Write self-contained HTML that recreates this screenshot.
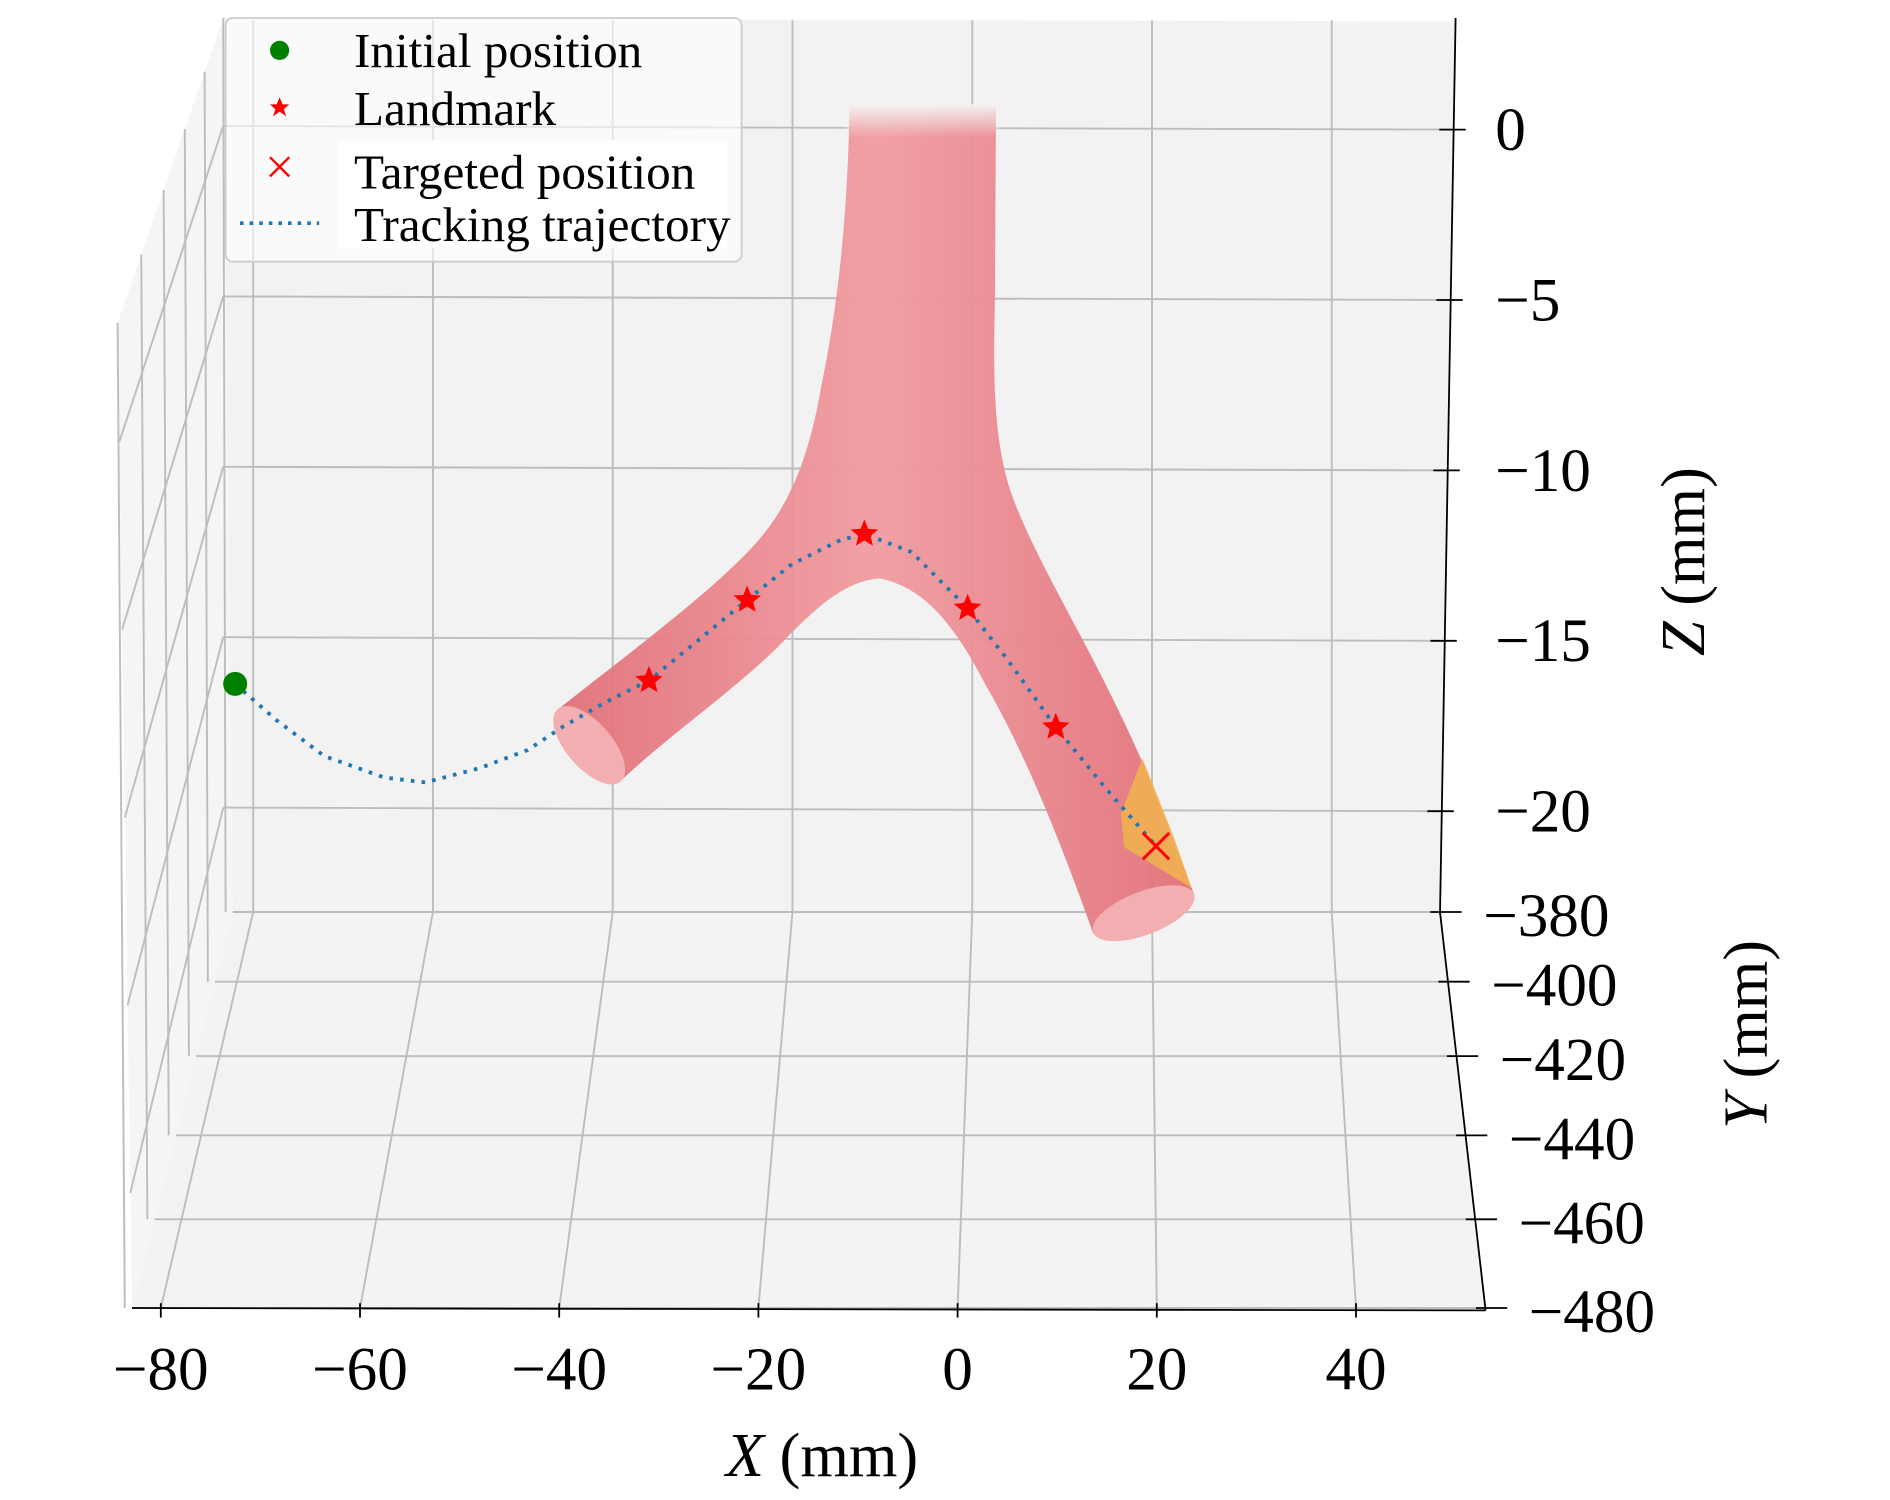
<!DOCTYPE html>
<html><head><meta charset="utf-8"><style>
html,body{margin:0;padding:0;background:#fff;}
svg{display:block;}
text{font-family:"Liberation Serif",serif;fill:#000;}
</style></head><body>
<svg id="chart" width="1890" height="1500" viewBox="0 0 1575 1250" preserveAspectRatio="none" xmlns="http://www.w3.org/2000/svg">
<defs>
<linearGradient id="trunkGrad" x1="0" y1="0" x2="1" y2="0">
<stop offset="0" stop-color="#e27078"/><stop offset="0.5" stop-color="#f09ca1"/><stop offset="1" stop-color="#e27078"/>
</linearGradient>
<linearGradient id="topFade" x1="0" y1="0" x2="0" y2="1">
<stop offset="0" stop-color="#f2f2f2" stop-opacity="1"/><stop offset="1" stop-color="#f2f2f2" stop-opacity="0"/>
</linearGradient>
</defs>
<g id="panes">
<polygon points="186,15 1213,18 1200,760 194,760" fill="#f2f2f2"/>
<polygon points="186,15 98,269 110,1090 194,760" fill="#f5f5f5"/>
<polygon points="194,760 1200,760 1238,1090 110,1090" fill="#f3f3f3"/>
</g>
<g id="grid" stroke="#bdbdbd" stroke-width="1.6" fill="none"></g>
<g id="vessel">
<path d="M708,88 L830,88 L829,257 C827,330 830,380 846,420 C870,480 910,540 952,635 L995,745 L911,778 C880,690 850,620 822,572 C800,530 775,490 733,482 C705,484 682,505 658,529 C620,570 560,610 517,651 L465,591 C530,540 590,495 625,458 C650,432 672,395 684,324 C695,270 706,200 708,88 Z" fill="url(#trunkGrad)" opacity="0.95"/>
<ellipse cx="491" cy="621" rx="40" ry="19" transform="rotate(49 491 621)" fill="#f2aeb1"/>
<polygon points="952,632 934,678 937,706 993,740 978,697" fill="#f0b050" opacity="0.9"/>
<ellipse cx="953" cy="761" rx="45" ry="18" transform="rotate(-21 953 761)" fill="#f2aeb1"/>
<rect x="704" y="87" width="130" height="28" fill="url(#topFade)"/>
</g>
<g id="marks"></g>
<g id="axes"></g>
<g id="legend">
<rect x="188" y="15" width="430" height="203" rx="6" fill="#ffffff" fill-opacity="0.6" stroke="#cccccc" stroke-width="1.5"/>
<rect x="282" y="117" width="324" height="90" fill="#ffffff"/>
<g>
<circle cx="233" cy="42" r="8" fill="#008000"/>
<text x="295" y="56" font-size="41">Initial position</text></g>
<g>
<polygon points="233,81 235.5,87 241,87 236.5,91 238.5,97 233,93 227.5,97 229.5,91 225,87 230.5,87" fill="#ff0000"/>
<text x="295" y="104" font-size="41">Landmark</text></g>
<g>
<path d="M225,131 L241,147 M241,131 L225,147" stroke="#ff0000" stroke-width="2"/>
<text x="295" y="157" font-size="41">Targeted position</text></g>
<g>
<line x1="200" y1="186" x2="266" y2="186" stroke="#1f77b4" stroke-width="3" stroke-dasharray="3 5"/>
<text x="295" y="201" font-size="41">Tracking trajectory</text></g>
</g>
</svg>
<script>
// ---- data ----
const xTicks = [-80, -60, -40, -20, 0, 20, 40];
const xTickLabels = ["\u221280", "\u221260", "\u221240", "\u221220", "0", "20", "40"];
const zTicks = [0, -5, -10, -15, -20];
const zTickLabels = ["0", "\u22125", "\u221210", "\u221215", "\u221220"];
const yTicks = [-380, -400, -420, -440, -460, -480];
const yTickLabels = ["\u2212380", "\u2212400", "\u2212420", "\u2212440", "\u2212460", "\u2212480"];
const trajX = [-72.1,-68.0,-63.2,-57.2,-53.1,-47.7,-42.9,-39.3,-35.1,-30.8,-26.1,-21.0,-16.5,-11.7,-9.3,-4.6,-1.0,1.0,5.0,9.8,14.6,19.8];
const trajZ = [-16.37,-17.43,-18.49,-19.12,-19.26,-18.84,-18.31,-17.61,-16.90,-16.27,-15.14,-13.91,-12.85,-12.15,-11.97,-12.50,-13.56,-14.15,-15.67,-17.64,-19.37,-21.13];
const landmarkX = [-30.8, -21.0, -9.3, 1.0, 9.8];
const landmarkZ = [-16.27, -13.91, -11.97, -14.15, -17.64];
const initialX = [-72.1];
const initialZ = [-16.37];
const targetX = [19.8];
const targetZ = [-21.13];

// ---- axis functions ----
const NS = "http://www.w3.org/2000/svg";
function px(X){ return 798 + X * 8.35; }
function pz(Z){ return 105 - Z * 28.4; }
function backX(X){ return 211 + (X + 80) * 7.49; }
function frontX(X){ return 798 + X * 8.3; }
function backZ(Z){ return 105 - Z * 28.4; }
function yT(Y){ const t = (-380 - Y) / 100; return t * 0.85 + 0.15 * t * t; }
function mk(tag, attrs, parent){ const e = document.createElementNS(NS, tag); for (const k in attrs) e.setAttribute(k, attrs[k]); parent.appendChild(e); return e; }

const grid = document.getElementById('grid');
const axes = document.getElementById('axes');
const marks = document.getElementById('marks');

xTicks.forEach((X, i) => {
  const l1 = mk('line', {x1: backX(X), y1: 17, x2: backX(X), y2: 760}, grid);
  
  
  const l2 = mk('line', {x1: backX(X), y1: 760, x2: frontX(X), y2: 1090}, grid);
  
  
  const tk = mk('line', {x1: frontX(X), y1: 1086, x2: frontX(X), y2: 1098, stroke: '#000', 'stroke-width': 1.5}, axes);
  
  
  const tx = mk('text', {x: frontX(X), y: 1158, 'font-size': 51, 'text-anchor': 'middle'}, axes);
  tx.textContent = xTickLabels[i];
  
  
});

zTicks.forEach((Z, i) => {
  const yb = backZ(Z);
  const xr = 1213 - (yb - 15) * 0.0175;
  const l1 = mk('line', {x1: 186, y1: yb, x2: xr, y2: yb + 3}, grid);
  
  
  const yf = 269 + (yb - 15) * (1090 - 269) / (760 - 15);
  const l2 = mk('line', {x1: 186, y1: yb, x2: 98 + (yf - 269) * 0.0146, y2: yf}, grid);
  
  
  const tk = mk('line', {x1: xr - 12, y1: yb + 3, x2: xr + 10, y2: yb + 3, stroke: '#000', 'stroke-width': 1.5}, axes);
  
  
  const tx = mk('text', {x: 1246, y: yb + 20, 'font-size': 51}, axes);
  tx.textContent = zTickLabels[i];
  
  
});

yTicks.forEach((Y, i) => {
  const t = yT(Y);
  const fy = 760 + 330 * t;
  const xl = 194 + t * (110 - 194);
  const xr = 1200 + t * 38;
  const l1 = mk('line', {x1: xl, y1: fy, x2: xr, y2: fy}, grid);
  
  
  const wx = 186 + t * (98 - 186);
  const l2 = mk('line', {x1: wx, y1: 15 + t * 254, x2: xl - 6, y2: fy}, grid);
  
  
  const tk = mk('line', {x1: xr - 8, y1: fy, x2: xr + 18, y2: fy, stroke: '#000', 'stroke-width': 1.5}, axes);
  
  
  const tx = mk('text', {x: xr + 36, y: fy + 20, 'font-size': 51}, axes);
  tx.textContent = yTickLabels[i];
  
  
});

const zAxis = mk('line', {x1: 1213, y1: 15, x2: 1200, y2: 762, stroke: '#000', 'stroke-width': 1.5}, axes);


const yAxis = mk('line', {x1: 1200, y1: 760, x2: 1238, y2: 1092, stroke: '#000', 'stroke-width': 1.5}, axes);


const xAxis = mk('line', {x1: 110, y1: 1090, x2: 1238, y2: 1092, stroke: '#000', 'stroke-width': 1.5}, axes);



const xt = mk('text', {x: 685, y: 1230, 'font-size': 52, 'text-anchor': 'middle'}, axes);
xt.innerHTML = '<tspan font-style="italic">X</tspan> (mm)';


const zt = mk('text', {x: 0, y: 0, 'font-size': 52, 'text-anchor': 'middle', transform: 'translate(1420,468) rotate(-90)'}, axes);
zt.innerHTML = '<tspan font-style="italic">Z</tspan> (mm)';


const yt = mk('text', {x: 0, y: 0, 'font-size': 52, 'text-anchor': 'middle', transform: 'translate(1472,862) rotate(-90)'}, axes);
yt.innerHTML = '<tspan font-style="italic">Y</tspan> (mm)';



let d = '';
trajX.forEach((X, i) => { d += (i ? ' L' : 'M') + px(X).toFixed(1) + ',' + pz(trajZ[i]).toFixed(1); });
const traj = mk('path', {d: d, fill: 'none', stroke: '#1f77b4', 'stroke-width': 3.2, 'stroke-dasharray': '3 6'}, marks);



function star(cx, cy, r){
  let p = [];
  for (let k = 0; k < 10; k++){
    const a = -Math.PI / 2 + k * Math.PI / 5;
    const rr = k % 2 ? r * 0.45 : r;
    p.push((cx + rr * Math.cos(a)).toFixed(1) + ',' + (cy + rr * Math.sin(a)).toFixed(1));
  }
  return p.join(' ');
}
landmarkX.forEach((X, i) => {
  const s = mk('polygon', {points: star(px(X), pz(landmarkZ[i]), 12), fill: '#ff0000'}, marks);
  
  
});

initialX.forEach((X, i) => {
  const c = mk('circle', {cx: px(X), cy: pz(initialZ[i]), r: 10, fill: '#008000'}, marks);
  
  
});

targetX.forEach((X, i) => {
  const cx = px(X), cy = pz(targetZ[i]);
  const t = mk('path', {d: `M${cx-11},${cy-11} L${cx+11},${cy+11} M${cx+11},${cy-11} L${cx-11},${cy+11}`, stroke: '#ff0000', 'stroke-width': 2.5, fill: 'none'}, marks);
  
  
});
</script>
</body></html>
